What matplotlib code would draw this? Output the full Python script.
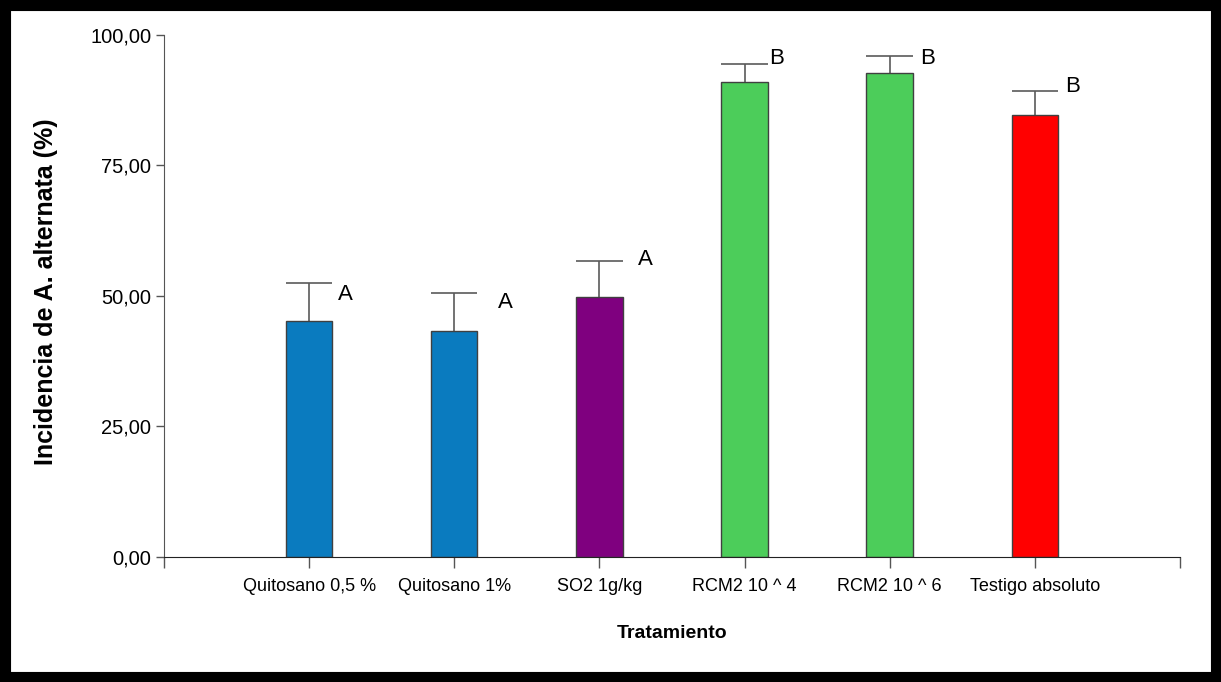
import matplotlib
matplotlib.use("Agg")
import matplotlib.pyplot as plt
from matplotlib.patches import Rectangle

# data
tratamientos = ["Quitosano 0,5 %", "Quitosano 1%", "SO2 1g/kg",
                "RCM2 10 ^ 4", "RCM2 10 ^ 6", "Testigo absoluto"]
incidencia = [45.3, 43.2, 49.9, 91.0, 92.8, 84.6]
error = [7.2, 7.3, 6.8, 3.4, 3.2, 4.6]
letras = ["A", "A", "A", "B", "B", "B"]
colores = ["#0a7bbf", "#0a7bbf", "#7f007f", "#4ccd5a", "#4ccd5a", "#ff0000"]

# where the letters sit (x offset from bar, y in data units)
letra_dx = [0.25, 0.35, 0.32, 0.22, 0.26, 0.26]
letra_y = [50.2, 48.7, 56.9, 95.4, 95.4, 90.2]

plt.rcParams["font.family"] = ["Liberation Sans", "DejaVu Sans"]

fig = plt.figure(figsize=(12.21, 6.82), dpi=100)
ax = fig.add_axes([0.1343, 0.1833, 0.8321, 0.7654])

x = list(range(1, len(tratamientos) + 1))
w = 0.32
ax.bar(x, incidencia, width=w, color=colores, edgecolor="#404040", linewidth=1.0, zorder=2)
tops = [v + e for v, e in zip(incidencia, error)]
ax.vlines(x, incidencia, tops, color="#5a5a5a", linewidth=1.2, zorder=1)
ax.hlines(tops, [xi - w / 2 for xi in x], [xi + w / 2 for xi in x],
          color="#5a5a5a", linewidth=1.2, zorder=1)

for xi, dx, ly, l in zip(x, letra_dx, letra_y, letras):
    ax.text(xi + dx, ly, l, fontsize=16, ha="center", va="center")

ax.set_xlim(0, 7)
ax.set_ylim(0, 100)
ax.set_xticks(range(0, 8))
ax.set_xticklabels([""] + tratamientos + [""], fontsize=13)
ax.set_yticks([0, 25, 50, 75, 100])
ax.set_yticklabels(["0,00", "25,00", "50,00", "75,00", "100,00"], fontsize=14.5)
ax.tick_params(axis="x", length=8, width=1, color="#555555", pad=7)
ax.tick_params(axis="y", length=6, width=1, color="#555555", pad=3)

ax.spines["top"].set_visible(False)
ax.spines["right"].set_visible(False)
ax.spines["left"].set_color("#555555")
ax.spines["bottom"].set_color("#222222")

ax.set_xlabel("Tratamiento", fontsize=14, fontweight="bold", labelpad=22)
fig.text(0.038, 0.572, "Incidencia de A. alternata (%)", rotation=90,
         fontsize=18, fontweight="bold", ha="center", va="center")

# black frame around the whole picture
fig.patches.append(Rectangle((0.004, 0.007), 0.992, 0.986, transform=fig.transFigure,
                             fill=False, edgecolor="black", linewidth=8, zorder=10))

fig.savefig("out.png", dpi=100)
